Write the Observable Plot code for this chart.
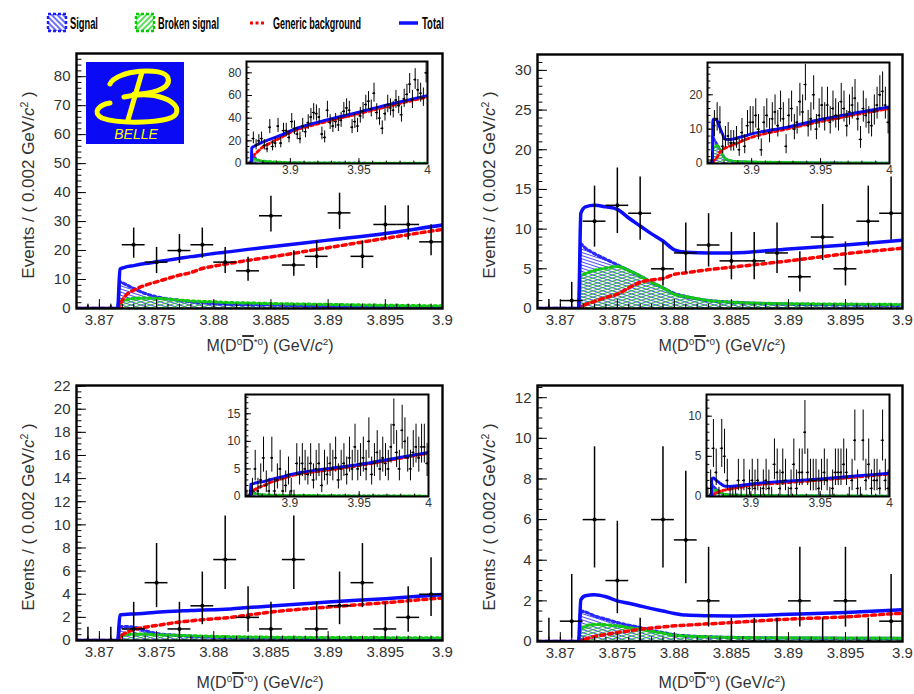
<!DOCTYPE html>
<html><head><meta charset="utf-8">
<script src="https://cdn.jsdelivr.net/npm/d3@7"></script>
<script src="https://cdn.jsdelivr.net/npm/@observablehq/plot@0.6"></script>
<style>
body{margin:0;background:#fff;}
#root{position:relative;width:914px;height:694px;overflow:hidden;background:#fff;font-family:"Liberation Sans",Arial,sans-serif;color:#333}
.abs{position:absolute}
.ytitle{position:absolute;transform:translate(-50%,-50%) rotate(-90deg);white-space:nowrap;font-size:17px;color:#333}
.xtitle{position:absolute;transform:translate(-50%,-50%);white-space:nowrap;font-size:16px;color:#333}
.ytitle sup,.xtitle sup{font-size:0.62em;vertical-align:0.6em;line-height:0}
.ob{text-decoration:overline;text-decoration-thickness:2px}
</style></head><body>
<svg width="0" height="0" style="position:absolute">
<defs>
<pattern id="hatchBlue" patternUnits="userSpaceOnUse" width="8" height="3" patternTransform="rotate(18)"><line x1="0" y1="1.5" x2="8" y2="1.5" stroke="#3a3aff" stroke-width="0.9"/></pattern>
<pattern id="hatchGreen" patternUnits="userSpaceOnUse" width="8" height="3" patternTransform="rotate(-18)"><line x1="0" y1="1.5" x2="8" y2="1.5" stroke="#22bb22" stroke-width="0.9"/></pattern>
<pattern id="hatchBlueL" patternUnits="userSpaceOnUse" width="6" height="4" patternTransform="rotate(45)"><line x1="0" y1="2" x2="6" y2="2" stroke="#2222ff" stroke-width="1.3"/></pattern>
<pattern id="hatchGreenL" patternUnits="userSpaceOnUse" width="6" height="4" patternTransform="rotate(-45)"><line x1="0" y1="2" x2="6" y2="2" stroke="#00cc00" stroke-width="1.3"/></pattern>
</defs></svg>
<div id="root">
<svg id="legend" class="abs" style="left:0;top:0" width="914" height="40" font-family="Liberation Sans, Arial, sans-serif">
 <rect x="48" y="14" width="18" height="17" fill="url(#hatchBlueL)" stroke="#1a1aff" stroke-width="2.4" stroke-dasharray="3,2"/>
 <text class="lt" data-x="70" data-w="28" font-size="16" font-weight="bold" fill="#000">Signal</text>
 <rect x="136" y="14" width="18" height="17" fill="url(#hatchGreenL)" stroke="#00cc00" stroke-width="2.4" stroke-dasharray="3,2"/>
 <text class="lt" data-x="158" data-w="61" font-size="16" font-weight="bold" fill="#000">Broken signal</text>
 <line x1="250" y1="23" x2="266" y2="23" stroke="#ff0000" stroke-width="3" stroke-dasharray="3,2.5"/>
 <text class="lt" data-x="273" data-w="88" font-size="16" font-weight="bold" fill="#000">Generic background</text>
 <line x1="399" y1="23" x2="418" y2="23" stroke="#1010ff" stroke-width="3.5"/>
 <text class="lt" data-x="422" data-w="22" font-size="16" font-weight="bold" fill="#000">Total</text>
</svg>
</div>
<script>
// ---------------- DATA ----------------
const binW = 0.002;
const centers = [3.869,3.871,3.873,3.875,3.877,3.879,3.881,3.883,3.885,3.887,3.889,3.891,3.893,3.895,3.897,3.899,
 3.901,3.903,3.905,3.907,3.909,3.911,3.913,3.915,3.917,3.919,3.921,3.923,3.925,3.927,3.929,3.931,3.933,3.935,3.937,3.939,
 3.941,3.943,3.945,3.947,3.949,3.951,3.953,3.955,3.957,3.959,3.961,3.963,3.965,3.967,3.969,3.971,3.973,3.975,3.977,3.979,
 3.981,3.983,3.985,3.987,3.989,3.991,3.993,3.995,3.997,3.999];

const countsTL = [0,0,22,16,20,22,16,13,32,15,18,33,18,29,29,23,
 37,31,26,22,33,28,36,41,45,44,41,26,23,47,36,33,37,34,38,46,49,47,32,37,33,42,46,52,55,48,62,45,40,31,44,52,49,47,56,51,43,57,61,70,56,74,65,62,58,80];
const countsTR = [0,1,11,13,12,5,7,8,6,6,7,4,9,5,11,12,
 12,14,10,4,12,14,9,13,15,11,16,13,5,14,16,10,12,18,15,23,11,13,20,10,14,17,13,17,12,16,14,13,18,16,11,15,17,19,13,7,16,14,12,11,15,17,20,21,17,12];
const countsBL = [0,0,1,5,1,3,7,2,1,7,1,3,5,1,2,4,
 1,0,6,4,6,5,4,6,3,5,6,2,5,4,6,5,7,3,5,6,4,7,5,9,5,6,7,5,10,4,6,8,5,7,6,5,9,13,8,5,12,10,7,5,8,9,7,9,9,6];
const countsBR = [0,1,6,3,0,6,5,2,0,0,0,2,0,2,0,1,
 2,1,2,0,1,2,1,0,4,3,1,3,2,0,1,4,1,3,3,8,3,2,2,2,1,2,3,2,0,1,3,3,3,4,3,0,2,7,1,0,7,2,4,1,2,2,1,7,2,1];

// fit curves, sampled at curveX
const curveX = [3.868,3.8716,3.8718,3.8722,3.873,3.874,3.875,3.876,3.877,3.878,3.879,3.880,3.881,3.883,3.885,3.89,3.895,3.9,3.925,3.95,3.975,4.0];
const totalTL = [0,0,13.6,14.2,14.8,15.5,16.1,16.7,17.3,17.9,18.4,19.0,19.4,20.4,21.3,23.6,25.9,28.8,38,45.4,53,60];
const bkgTL   = [0,0,1.5,4.0,6.3,8.0,9.2,10.4,11.5,12.4,13.8,14.6,15.3,16.6,17.8,21.0,24.2,27.3,36.5,44,51.5,58.7];
const sigTL   = [0,0,9.2,8.5,6.9,5.2,4.0,3.3,2.8,2.3,2.0,1.7,1.5,1.3,1.2,0.8,0.7,0.6,0.4,0.3,0.25,0.2];
const brkTL   = [0,0,2.3,2.8,3.5,3.6,3.5,3.2,2.9,2.6,2.4,2.3,2.1,1.9,1.7,1.4,1.1,0.9,0.6,0.45,0.35,0.3];
const totalTR = [0,0,12.0,12.8,13.0,12.8,12.5,11.4,10.4,9.4,8.5,7.4,7.1,7.0,7.0,7.5,8.0,8.6,10.5,12.8,14.7,16.5];
const bkgTR   = [0,0,0.3,0.5,0.9,1.4,1.8,2.6,3.3,3.6,3.8,4.3,4.5,4.9,5.2,6.0,6.9,7.6,10,12.2,14.2,16];
const sigTR   = [0,0,8.1,7.6,6.9,6.2,5.5,4.8,4.1,3.3,2.6,1.9,1.5,1.0,0.8,0.55,0.45,0.4,0.3,0.2,0.15,0.1];
const brkTR   = [0,0,4.1,4.4,4.8,5.1,5.3,4.8,4.1,3.3,2.6,1.8,1.5,1.0,0.8,0.6,0.55,0.5,0.35,0.25,0.2,0.15];
const totalBL = [0,0,2.2,2.25,2.3,2.35,2.45,2.5,2.55,2.6,2.63,2.66,2.7,2.85,2.98,3.33,3.62,3.97,5.0,5.8,6.9,8.0];
const bkgBL   = [0,0,0.3,0.6,0.93,1.15,1.3,1.45,1.6,1.7,1.8,1.88,1.95,2.2,2.46,2.89,3.27,3.68,4.7,5.6,6.7,7.85];
const sigBL   = [0,0,1.2,1.2,1.15,0.85,0.6,0.5,0.42,0.36,0.32,0.29,0.27,0.24,0.22,0.18,0.16,0.15,0.1,0.08,0.06,0.05];
const brkBL   = [0,0,0.45,0.5,0.55,0.55,0.5,0.47,0.44,0.41,0.38,0.35,0.33,0.3,0.28,0.25,0.24,0.23,0.18,0.14,0.12,0.1];
const totalBR = [0,0,2.05,2.25,2.3,2.2,2.0,1.88,1.75,1.62,1.5,1.38,1.3,1.27,1.26,1.34,1.43,1.56,1.9,2.2,2.55,2.9];
const bkgBR   = [0,0,0.05,0.12,0.25,0.35,0.44,0.52,0.6,0.66,0.72,0.77,0.8,0.87,0.93,1.1,1.21,1.39,1.7,2.05,2.4,2.8];
const sigBR   = [0,0,1.5,1.45,1.26,1.1,0.93,0.8,0.69,0.55,0.44,0.33,0.28,0.23,0.2,0.17,0.16,0.15,0.1,0.08,0.06,0.05];
const brkBR   = [0,0,0.6,0.75,0.85,0.82,0.77,0.68,0.6,0.5,0.41,0.31,0.27,0.23,0.2,0.18,0.17,0.16,0.12,0.1,0.08,0.06];

// tick labels
const mainXTicks = [3.87,3.875,3.88,3.885,3.89,3.895,3.9];
const insetXTicks = [3.9,3.95,4];
const yTicksTL = [0,10,20,30,40,50,60,70,80];
const yTicksTR = [0,5,10,15,20,25,30];
const yTicksBL = [0,2,4,6,8,10,12,14,16,18,20,22];
const yTicksBR = [0,2,4,6,8,10,12];
const insetYTicksTL = [0,20,40,60,80];
const insetYTicksTR = [0,10,20];
const insetYTicksBL = [0,5,10,15];
const insetYTicksBR = [0,5,10];

// ---------------- legend text fitting ----------------
document.querySelectorAll("#legend text.lt").forEach(t => {
  const natural = t.getComputedTextLength();
  const target = +t.dataset.w;
  t.setAttribute("transform", `translate(${t.dataset.x},29) scale(${target/natural},1)`);
});

// ---------------- helpers ----------------
function poisCDF(n, mu){ let t = Math.exp(-mu), s = t; for(let k=1;k<=n;k++){ t *= mu/k; s += t; } return s; }
function solve(f, target, lo, hi, increasing){
  for(let it=0; it<80; it++){ const m=(lo+hi)/2; const v=f(m); if((v<target)===increasing) lo=m; else hi=m; }
  return (lo+hi)/2;
}
// RooFit-style Poisson 68% intervals
function poisInterval(n){
  const a = 0.158655;
  if(n===0) return [0, -Math.log(1-0.682689)];
  const hiB = n + 10*Math.sqrt(n+1) + 10;
  const up = solve(mu => poisCDF(n, mu), a, 0, hiB, false);
  const lo = solve(mu => 1 - poisCDF(n-1, mu), a, 0, hiB, true);
  return [lo, up];
}
const tickShape = {draw(ctx, l){ ctx.moveTo(0,0); ctx.lineTo(0,-l); }};
function minors(step, max){ return d3.range(0, max + 1e-9, step); }

const root = document.getElementById("root");

function makePlot(o){
  const cd = curveX.map((x,i)=>({x, total:o.total[i], bkg:o.bkg[i], sig:o.sig[i], brk:o.brk[i]}));
  const pts = centers.map((x,i)=>{ const [lo,hi]=poisInterval(o.counts[i]); return {x, n:o.counts[i], lo, hi}; })
                     .filter(d => d.x < o.xDomain[1]);
  const c = "monotone-x";
  const lw = o.lw;
  const marks = [];
  if(o.bgWhite) marks.push(Plot.frame({fill:"white"}));
  marks.push(
    Plot.areaY(cd, {x:"x", y:"sig", fill:"url(#hatchBlue)", curve:c, clip:true}),
    Plot.areaY(cd, {x:"x", y:"brk", fill:"url(#hatchGreen)", curve:c, clip:true}),
    Plot.line(cd, {x:"x", y:"sig", stroke:"#2a2aff", strokeWidth:lw, strokeDasharray:o.dash, curve:c, clip:true}),
    Plot.line(cd, {x:"x", y:"brk", stroke:"#14c814", strokeWidth:lw, strokeDasharray:o.dash, curve:c, clip:true}),
    Plot.line(cd, {x:"x", y:"bkg", stroke:"#ff0000", strokeWidth:lw+0.3, strokeDasharray:o.dash2, curve:c, clip:true}),
    Plot.line(cd, {x:"x", y:"total", stroke:"#0c0cff", strokeWidth:lw+0.3, curve:c, clip:true}),
    Plot.ruleX(pts, {x:"x", y1:"lo", y2:"hi", stroke:"black", strokeWidth:o.ebw, clip:true}),
    Plot.ruleY(pts, {y:"n", x1:d=>d.x-binW/2, x2:d=>d.x+binW/2, stroke:"black", strokeWidth:o.ebw, clip:true}),
    Plot.dot(pts, {x:"x", y:"n", r:o.dotR, fill:"black", stroke:null, clip:true}),
    Plot.vector(o.yMajor, {y:d=>d, frameAnchor:"left", rotate:90, length:o.tickL, anchor:"start", shape:tickShape, stroke:"black", fill:"none", strokeWidth:1}),
    Plot.vector(o.yMinor, {y:d=>d, frameAnchor:"left", rotate:90, length:o.tickL/2, anchor:"start", shape:tickShape, stroke:"black", fill:"none", strokeWidth:1}),
    Plot.vector(o.xMajor, {x:d=>d, frameAnchor:"bottom", rotate:0, length:o.tickL, anchor:"start", shape:tickShape, stroke:"black", fill:"none", strokeWidth:1}),
    Plot.vector(o.xMinor, {x:d=>d, frameAnchor:"bottom", rotate:0, length:o.tickL/2, anchor:"start", shape:tickShape, stroke:"black", fill:"none", strokeWidth:1}),
    Plot.axisX({ticks:o.xMajor, tickSize:0, tickPadding:o.xPad, tickFormat:o.xFmt, label:null}),
    Plot.axisY({ticks:o.yMajor, tickSize:0, tickPadding:o.yPad, tickFormat:d=>String(d), label:null}),
    Plot.frame({stroke:"black", strokeWidth:o.frameW})
  );
  const svg = Plot.plot({
    width:o.width, height:o.height,
    marginLeft:o.m[0], marginRight:o.m[1], marginTop:o.m[2], marginBottom:o.m[3],
    x:{domain:o.xDomain}, y:{domain:o.yDomain},
    style:{fontFamily:"Liberation Sans, Arial, sans-serif", fontSize:o.fontSize+"px", color:"#333", background:"transparent", overflow:"visible"},
    marks
  });
  svg.style.position = "absolute";
  svg.style.left = o.left + "px";
  svg.style.top = o.top + "px";
  root.appendChild(svg);
}

const panels = [
  {counts:countsTL, total:totalTL, bkg:bkgTL, sig:sigTL, brk:brkTL, left:0, top:40, width:457, height:320, m:[76,15,13,52], yMax:88, yMajor:yTicksTL, yMinStep:2,
   inset:{left:220, top:58, width:215, height:121, yMax:90, yMajor:insetYTicksTL, yMinStep:5}},
  {counts:countsTR, total:totalTR, bkg:bkgTR, sig:sigTR, brk:brkTR, left:457, top:40, width:457, height:320, m:[80,12,14,52], yMax:32, yMajor:yTicksTR, yMinStep:1,
   inset:{left:681, top:59, width:216, height:120, yMax:29.4, yMajor:insetYTicksTR, yMinStep:2}},
  {counts:countsBL, total:totalBL, bkg:bkgBL, sig:sigBL, brk:brkBL, left:0, top:360, width:457, height:334, m:[76,15,25,54], yMax:22.05, yMajor:yTicksBL, yMinStep:0.5,
   inset:{left:219, top:391, width:217, height:121, yMax:18.5, yMajor:insetYTicksBL, yMinStep:1}},
  {counts:countsBR, total:totalBR, bkg:bkgBR, sig:sigBR, brk:brkBR, left:457, top:360, width:457, height:334, m:[80,12,25,53], yMax:12.6, yMajor:yTicksBR, yMinStep:0.5,
   inset:{left:680, top:391, width:217, height:121, yMax:12.7, yMajor:insetYTicksBR, yMinStep:1}}
];

for(const p of panels){
  makePlot({
    counts:p.counts, total:p.total, bkg:p.bkg, sig:p.sig, brk:p.brk,
    left:p.left, top:p.top, width:p.width, height:p.height, m:p.m,
    xDomain:[3.868,3.9], yDomain:[0,p.yMax],
    xMajor:mainXTicks, xMinor:d3.range(3.868,3.9001,0.001), yMajor:p.yMajor, yMinor:minors(p.yMinStep,p.yMax),
    xFmt:d=>String(+d.toFixed(3)), xPad:6, yPad:6, fontSize:15, lw:3.2, dash:"2.5,3", dash2:"4,4",
    ebw:1.5, dotR:2, tickL:9, frameW:2.4, bgWhite:false
  });
}
for(const p of panels){
  const s = p.inset;
  makePlot({
    counts:p.counts, total:p.total, bkg:p.bkg, sig:p.sig, brk:p.brk,
    left:s.left, top:s.top, width:s.width, height:s.height, m:[26,8,3,16],
    xDomain:[3.868,4.0], yDomain:[0,s.yMax],
    xMajor:insetXTicks, xMinor:d3.range(3.87,4.0001,0.01), yMajor:s.yMajor, yMinor:minors(s.yMinStep,s.yMax),
    xFmt:d=>String(d), xPad:2, yPad:5, fontSize:12, lw:2.6, dash:"2.5,2.5", dash2:"3,3",
    ebw:1, dotR:1.1, tickL:5, frameW:2, bgWhite:true
  });
}

// axis titles (HTML)
const ytitle = 'Events / ( 0.002 GeV/<i>c</i><sup>2</sup> )';
const xtitle = 'M(D<sup>0</sup><span class="ob">D</span><sup>*0</sup>) (GeV/<i>c</i><sup>2</sup>)';
const titlePos = [
  {y:[29,185], x:[270,346]}, {y:[490,185], x:[722,346]},
  {y:[29,517], x:[260,683]}, {y:[490,517], x:[722,683]}
];
for(const t of titlePos){
  const a = document.createElement("div"); a.className="ytitle"; a.style.left=t.y[0]+"px"; a.style.top=t.y[1]+"px"; a.innerHTML=ytitle; root.appendChild(a);
  const b = document.createElement("div"); b.className="xtitle"; b.style.left=t.x[0]+"px"; b.style.top=t.x[1]+"px"; b.innerHTML=xtitle; root.appendChild(b);
}

// BELLE logo
const logo = document.createElement("div");
logo.className = "abs"; logo.style.left="86px"; logo.style.top="62px";
logo.innerHTML = `<svg width="98" height="82" viewBox="0 0 98 82">
 <rect width="98" height="82" fill="#0a0af5"/>
 <g fill="none" stroke="#ffff00" stroke-width="5" stroke-linecap="round">
  <path d="M24,22 C30,8 78,4 82,16 C86,28 62,32 48,32"/>
  <path d="M56,10 L42,58"/>
  <path d="M38,35 C70,28 96,40 90,52 C84,62 32,62 16,56 C6,51 12,43 24,41"/>
 </g>
 <text x="50" y="77" text-anchor="middle" font-family="Liberation Sans, Arial" font-style="italic" font-size="14" fill="#ffff00">BELLE</text>
</svg>`;
root.appendChild(logo);
</script>
</body></html>
